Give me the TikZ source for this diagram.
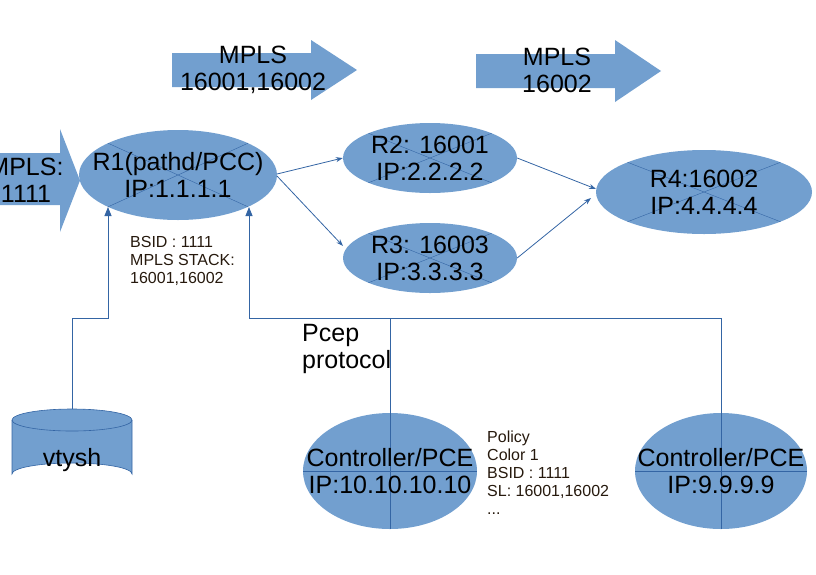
\documentclass[tikz,border=0pt]{standalone}
\usepackage{fontspec}
\setmainfont{Liberation Sans}
\usetikzlibrary{shapes.geometric,shapes.arrows,arrows.meta}
\definecolor{fillb}{HTML}{729FCF}
\definecolor{lineb}{HTML}{3465A4}
\begin{document}
\begin{tikzpicture}[x=1pt,y=-1pt,
  big/.style={font=\fontsize{25}{27}\selectfont,align=center},
  small/.style={font=\fontsize{16}{18}\selectfont,align=left,text=black!80!brown},
  conn/.style={lineb,line width=0.8pt},
  arr/.style={conn,-{Triangle[length=9pt,width=7pt]}}]
\useasboundingbox (0,0) rectangle (816,574);
\newcommand{\blockarrow}[7]{%
  \fill[fillb] (#1,#6) -- (#3,#6) -- (#3,#4) -- (#2,{(#4+#5)/2}) -- (#3,#5) -- (#3,#7) -- (#1,#7) -- cycle;}
\blockarrow{172}{357}{311}{40}{100}{53}{87}
\blockarrow{476}{661}{615}{40}{102}{54}{88}
\blockarrow{0}{80}{60}{129}{232}{153}{205}
\node[big] (a1) at (253,70) {MPLS\\16001,16002};
\node[big] (a2) at (557,70) {MPLS\\16002};
\node[big] (a3) at (26,180) {MPLS:\\1111};
\newcommand{\rnode}[5]{%
  \fill[fillb] (#2,#3) ellipse [x radius=#4,y radius=#5];
  \begin{scope}
  \clip (#2,#3) ellipse [x radius=#4,y radius=#5];
  \draw[lineb,line width=0.4pt] (#2-#4,#3-#5) -- (#2+#4,#3+#5) (#2-#4,#3+#5) -- (#2+#4,#3-#5);
  \end{scope}
  \node[ellipse,minimum width=2*#4,minimum height=2*#5,inner sep=0pt] (#1) at (#2,#3) {};}
\newcommand{\cnode}[5]{%
  \fill[fillb] (#2,#3) ellipse [x radius=#4,y radius=#5];
  \draw[lineb,line width=0.6pt] (#2-#4,#3) -- (#2+#4,#3) (#2,#3-#5) -- (#2,#3+#5);
  \node[ellipse,minimum width=2*#4,minimum height=2*#5,inner sep=0pt] (#1) at (#2,#3) {};}
\rnode{r1}{178}{175}{99}{45}
\rnode{r2}{430}{158}{87}{35}
\rnode{r3}{430}{258}{87}{35}
\rnode{r4}{704}{192}{108}{42}
\cnode{c1}{390}{471}{87}{58}
\cnode{c2}{721}{471}{86}{58}
\node[big] at (r1) {R1(pathd/PCC)\\IP:1.1.1.1};
\node[big] at (r2) {R2: 16001\\IP:2.2.2.2};
\node[big] at (r3) {R3: 16003\\IP:3.3.3.3};
\node[big] at (r4) {R4:16002\\IP:4.4.4.4};
\node[big] at (c1) {Controller/PCE\\IP:10.10.10.10};
\node[big] at (c2) {Controller/PCE\\IP:9.9.9.9};
\fill[fillb] (12,420) -- (12,474) arc[start angle=180,end angle=360,x radius=60,y radius=11] -- (132,420) -- cycle;
\draw[lineb,line width=0.6pt,fill=fillb] (72,420) ellipse [x radius=60,y radius=11];
\draw[lineb,line width=0.6pt] (12,420) -- (12,474) arc[start angle=180,end angle=360,x radius=60,y radius=11] -- (132,420);
\node[big] (vt) at (72,460) {vtysh};
\coordinate (vtop) at (72,409);
\draw[arr,-{Stealth[length=7pt,width=5pt]}] (277,174) -- (r2.west);
\draw[arr,-{Stealth[length=7pt,width=5pt]}] (277,176) -- (343,246);
\draw[arr,-{Stealth[length=7pt,width=5pt]}] (r2.east) -- (596,189);
\draw[arr,-{Stealth[length=7pt,width=5pt]}] (r3.east) -- (591,198);
\coordinate (p1) at (108,207);
\coordinate (p2) at (249,207);
\draw[arr] (vtop) |- (108,318) -- (p1);
\draw[arr] (c1.north) |- (249,318) -- (p2);
\draw[conn] (c2.north) |- (390,318);
\node[big,align=left,anchor=north west,inner sep=0pt] (pc) at (302,324) {Pcep\\protocol};
\node[small,anchor=north west,inner sep=0pt] (bs) at (130,236) {BSID : 1111\\MPLS STACK:\\16001,16002};
\node[small,anchor=north west,inner sep=0pt] (po) at (487,431) {Policy\\Color 1\\BSID : 1111\\SL: 16001,16002\\...};
\end{tikzpicture}
\end{document}
